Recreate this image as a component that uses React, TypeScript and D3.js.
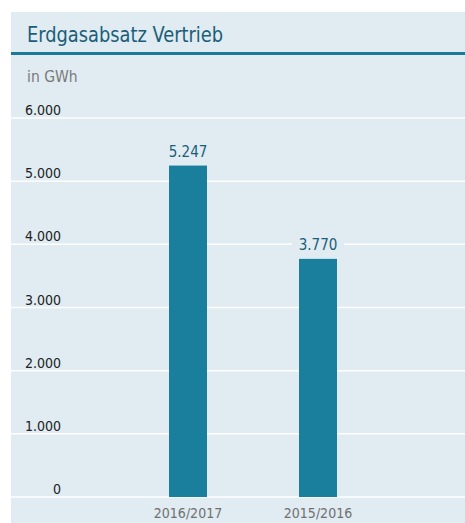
import React from "react";
import * as d3 from "d3";

const categories = ["2016/2017", "2015/2016"];
const values = [5247, 3770];
const yTicks = [0, 1000, 2000, 3000, 4000, 5000, 6000];
const title = "Erdgasabsatz Vertrieb";
const unit = "in GWh";

const fmt = (v: number) => d3.format(",")(v).replace(/,/g, ".");

export default function App() {
  const W = 465, H = 523;
  const y = d3.scaleLinear().domain([0, 6000]).range([497, 118]);
  const x = d3.scalePoint().domain(categories).range([123, 383]).padding(0.5);
  const font = "'DejaVu Sans Condensed', 'DejaVu Sans', sans-serif";
  const bw = 38;
  return (
    <svg width={W} height={H} style={{ position: "absolute", left: 0, top: 0 }}>
      <rect x={11} y={12} width={W - 11} height={H - 12} fill="#e0ebf2" />
      <text x={27} y={42} fontFamily={font} fontSize={21} fill="#1b5e78" textLength={196} lengthAdjust="spacingAndGlyphs">{title}</text>
      <rect x={11} y={52} width={W - 11} height={3} fill="#1a7a98" />
      <text x={27} y={82} fontFamily={font} fontSize={15.5} fill="#7a7a7a">{unit}</text>
      {yTicks.map((t) => (
        <g key={t}>
          <line x1={11} x2={W} y1={y(t)} y2={y(t)} stroke="#ffffff" strokeWidth={1.5} />
          <text x={61} y={y(t) - 3} fontFamily={font} fontSize={14} fill="#222" textAnchor="end">{fmt(t)}</text>
        </g>
      ))}
      {categories.map((c, i) => {
        const cx = x(c) as number;
        const label = fmt(values[i]);
        return (
          <g key={c}>
            <rect x={cx - bw / 2} y={y(values[i])} width={bw} height={y(0) - y(values[i])} fill="#1a7f9c" />
            <rect x={cx - 26} y={y(values[i]) - 26} width={52} height={20} fill="#e0ebf2" />
            <text x={cx} y={y(values[i]) - 9} textAnchor="middle" fontFamily={font} fontSize={15} fill="#1b5e78">{label}</text>
            <text x={cx} y={518} textAnchor="middle" fontFamily={font} fontSize={14} fill="#707070">{c}</text>
          </g>
        );
      })}
    </svg>
  );
}
